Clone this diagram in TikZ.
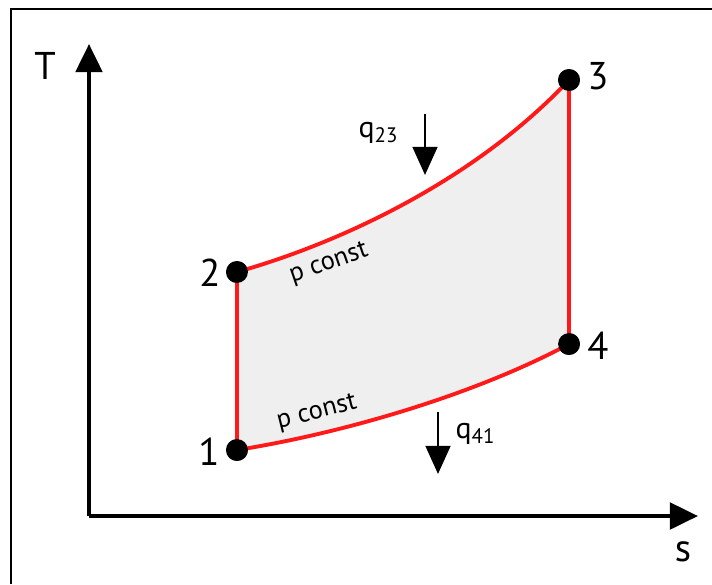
\documentclass[tikz,border=0pt]{standalone}
\usepackage{fontspec}
\setmainfont{PT Sans}
\usetikzlibrary{arrows.meta}
\definecolor{cyclered}{RGB}{255,25,25}
\definecolor{cyclefill}{RGB}{239,239,239}

\begin{document}
\begin{tikzpicture}[
    x=0.01cm, y=-0.01cm,
    dot/.style={circle, fill=black, inner sep=0pt, minimum size=6.2pt},
    lbl/.style={font=\fontsize{11}{12}\selectfont},
    curve/.style={draw=cyclered, line width=1.1pt},
    axis/.style={line width=1.2pt, -{Triangle[length=8pt, width=7.5pt]}},
    heat/.style={line width=0.85pt, -{Triangle[length=8pt, width=7pt]}},
    iso/.style={font=\fontsize{7.5}{8}\selectfont, inner sep=0pt}
]
    \useasboundingbox (0,0) rectangle (712,584);
    % Frame
    \draw[line width=0.6pt] (11,584) -- (11,9) -- (712,9);

    % Points
    \node[dot] (p1) at (237,450) {};
    \node[dot] (p2) at (237,272) {};
    \node[dot] (p3) at (569,80) {};
    \node[dot] (p4) at (569,344) {};

    % Cycle area
    \fill[cyclefill] (p1.center) -- (p2.center) .. controls (350,240) and (480,175) .. (p3.center)
        -- (p4.center) .. controls (480,392) and (350,432) .. (p1.center) -- cycle;

    % Cycle lines
    \draw[curve] (p1.center) -- (p2.center);
    \draw[curve] (p2.center) .. controls (350,240) and (480,175) .. (p3.center);
    \draw[curve] (p3.center) -- (p4.center);
    \draw[curve] (p4.center) .. controls (480,392) and (350,432) .. (p1.center);
    \foreach \p in {p1,p2,p3,p4}
        \node[dot] at (\p) {};

    % Point labels
    \node[lbl] (n1) at (209,452) {1};
    \node[lbl] (n2) at (210,273) {2};
    \node[lbl] (n3) at (598,76) {3};
    \node[lbl] (n4) at (598,346) {4};

    % Axes
    \coordinate (origin) at (89,516);
    \coordinate (Tend) at (89,44);
    \coordinate (send) at (698,516);
    \draw[axis] (origin) -- (Tend);
    \draw[axis] (origin) -- (send);
    \node[lbl] (Tlbl) at (45,66) {T};
    \node[lbl] (slbl) at (683,552) {s};

    % Isobars
    \node[iso, rotate=19] (pc23) at (329,264) {p const};
    \node[iso, rotate=14] (pc41) at (317,413) {p const};

    % Heat
    \coordinate (q23a) at (425,114);
    \coordinate (q23b) at (425,175);
    \coordinate (q41a) at (438,412);
    \coordinate (q41b) at (438,474);
    \draw[heat] (q23a) -- (q23b);
    \draw[heat] (q41a) -- (q41b);
    \node[font=\fontsize{8.5}{9}\selectfont] (q23) at (379,133) {q\textsubscript{23}};
    \node[font=\fontsize{8.5}{9}\selectfont] (q41) at (476,434) {q\textsubscript{41}};
\end{tikzpicture}
\end{document}
